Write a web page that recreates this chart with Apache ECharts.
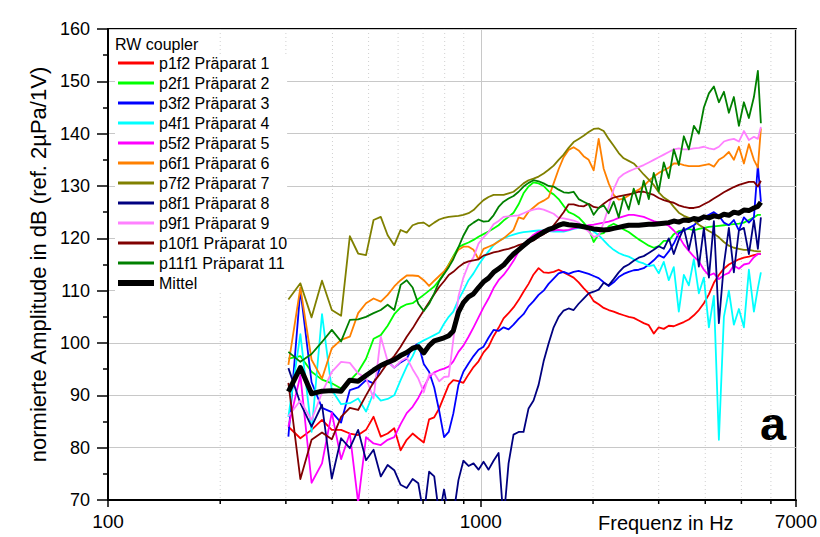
<!DOCTYPE html>
<html>
<head>
<meta charset="utf-8">
<script src="https://cdn.jsdelivr.net/npm/echarts@6/dist/echarts.min.js"></script>
<style>
html,body{margin:0;padding:0;background:#fff;}
#chart{width:820px;height:537px;}
</style>
</head>
<body>
<div id="chart"></div>
<script>
// frequency grid (Hz)
const freq = [304.7, 328.1, 351.6, 375, 398.4, 421.9, 445.3, 468.8, 492.2, 515.6, 539.1, 562.5, 585.9, 609.4, 632.8, 656.3, 679.7, 703.1, 726.6, 750, 773.4, 796.9, 820.3, 843.8,
  871, 898, 927, 956, 986, 1017, 1049, 1082, 1116, 1151, 1187, 1224, 1263, 1302, 1343, 1385, 1429, 1474, 1520, 1568,
  1617, 1668, 1720, 1774, 1830, 1887, 1947, 2008, 2071, 2136, 2203, 2272, 2344, 2417, 2493, 2571, 2652, 2735, 2822, 2910, 3001, 3096,
  3193, 3293, 3397, 3504, 3614, 3728, 3845, 3966, 4091, 4219, 4351, 4488, 4628, 4773, 4924, 5078, 5237, 5402,
  5536, 5640];

const p1f2 = [84, 81.8, 83.4, 85.3, 83.4, 83.4, 82.7, 82.4, 83.4, 85.9, 82.1, 82.7, 83.7, 79.5, 81.5, 82.7, 81.8, 81, 85.4, 85.8, 87.5, 89.8, 92, 92.9,
  92.7, 92.4, 94, 95.4, 96.5, 98.2, 99.3, 101.3, 102.9, 104.7, 105.7, 106.8, 108.2, 109.8, 111.3, 113.1, 114.3, 113.5, 113.4, 113.6,
  114, 113.5, 113, 112.5, 111.6, 110.5, 109.5, 108, 107.4, 106.7, 106.3, 106, 105.6, 105.3, 105, 104.8, 104.3, 103.8, 103.4, 101.8, 103, 102.7,
  103.3, 103.2, 103.6, 104, 104.5, 105.3, 106.3, 107.6, 109.3, 111.5, 113, 114.2, 115, 115.5, 116, 116.3, 116.5, 116.8,
  117, 117];
const p2f1 = [97, 97.5, 94.5, 93, 92.3, 91.3, 92.8, 94.5, 97, 100.8, 101.5, 103.3, 105.5, 106.8, 107.4, 107.6, 108.4, 109.2, 110, 110.8, 112, 113.3, 115, 116.6,
  118.3, 118.8, 119.2, 119.7, 120.3, 120.8, 121.3, 121.9, 122.5, 123.4, 124.1, 124.9, 126.5, 128.6, 129.9, 130.7, 130.5, 130, 129, 128.4,
  127.5, 126.2, 125, 124.6, 124, 123, 121.8, 119.3, 120.8, 121, 122.3, 122.8, 122.3, 121.7, 121.2, 120.5, 119.8, 119.2, 118.6, 118.2, 118.5, 119.5,
  119.5, 120.8, 121.4, 121.6, 121.8, 121.5, 121.8, 122, 122.2, 122.3, 122.4, 122.5, 122.6, 122.7, 122.8, 123, 123.5, 124,
  124.5, 124.5];
const p3f2 = [82.1, 110.2, 92.5, 87.6, 86.8, 84.8, 91, 91.5, 92.9, 92.3, 95.5, 96.5, 95.3, 96.3, 97, 99.2, 99.9, 96, 94.5, 91.5, 87, 82, 83, 86.5,
  92, 94.5, 96.1, 97.5, 98.7, 99.3, 101, 102.5, 102.3, 103, 102.6, 103.5, 104.6, 105.5, 107, 108, 109.2, 110, 111.3, 112.3,
  113.3, 113.6, 113.2, 113.6, 113.8, 113.5, 113.2, 112.8, 112.4, 111.6, 110.9, 111.6, 112.6, 113.2, 113.6, 113.9, 114, 114.3, 115, 115.8, 116.8, 116.3,
  117.5, 119, 121, 121.5, 122, 122.5, 123.3, 124, 124.5, 125, 124.3, 123, 122.5, 123.5, 121.5, 124, 123, 124,
  134, 127];
const p4f1 = [85.9, 101.7, 83, 105.5, 91, 88.3, 88.5, 89.4, 86.9, 90.5, 89, 89.3, 90, 92.9, 95.5, 97.5, 99.9, 100.5, 101, 101.5, 102, 103.7, 105, 106,
  108.3, 110, 112, 113.3, 114.9, 116.3, 117.5, 118.7, 119.5, 120, 120.4, 120.7, 121, 121.2, 121.3, 121.4, 121.5, 121.5, 121.4, 121.3,
  121.3, 121.3, 121.5, 121.8, 122, 122.1, 122, 121.3, 120.6, 119.6, 118.6, 117.8, 117.2, 116.8, 116.5, 116, 115.5, 115.2, 114.7, 114.9, 113.3, 115.5,
  112, 114.5, 106, 113, 111, 116, 109.5, 112.5, 103, 109, 81.5, 105, 110, 103.5, 106.5, 103, 114, 106,
  110.5, 113.5];
const p5f2 = [84, 93.8, 73.3, 77, 86.7, 77.8, 82.7, 69.5, 82, 80.8, 80.5, 81.5, 82, 84.5, 86.6, 87.8, 89.5, 91.5, 93.5, 94.4, 94.8, 95.1, 95.5, 96.5,
  98.3, 99.5, 101.2, 103, 104.9, 106.8, 108.5, 110.5, 112, 113, 114.3, 115.7, 117.5, 118.8, 119.8, 120.7, 121.3, 121.5, 121.5, 121.5,
  121.6, 121.5, 121.6, 121.9, 122.1, 122.3, 122.5, 122.6, 122.8, 123, 123.2, 123.5, 123.9, 124.2, 124.5, 124.5, 124.3, 124.1, 123.7, 123.3, 123, 122.8,
  122.4, 121.5, 120.4, 118.8, 117.6, 116.5, 115.6, 114, 112.9, 113.3, 112.2, 113, 113.4, 114.8, 114.2, 115, 115.2, 116.4,
  117, 117];
const p6f1 = [95.8, 110.6, 96.8, 93.2, 99, 100.6, 101.2, 105.7, 107.6, 108.5, 107.9, 109.2, 110.8, 112, 112.9, 112.9, 112.8, 112, 110.9, 111.9, 112.8, 113.7, 114.9, 116.4,
  117.8, 118.4, 118.4, 117.8, 116, 118, 118.4, 118.8, 119.4, 120, 120.8, 121.6, 124, 123.7, 125.1, 125.9, 126.7, 127.2, 127.8, 130.5,
  133.2, 135.5, 136.9, 137.4, 136.8, 135.7, 135, 133, 139, 133.3, 130.5, 128.3, 127.4, 127.6, 128.2, 128.8, 129.3, 130, 131, 131.8, 132.5, 133,
  133.5, 134.3, 134.3, 134, 133.8, 133.8, 133.8, 134, 134.2, 133.7, 135, 135.6, 136.5, 135, 137.5, 134.3, 138, 135,
  133.5, 141];
const p7f2 = [108.3, 111.4, 104.9, 111.9, 106.3, 105.2, 120.4, 117.1, 116.8, 123.5, 124.1, 120.6, 118.7, 121.6, 121.1, 122.5, 122.9, 123, 122.3, 123, 123.6, 123.9, 124.1, 124.2,
  124.3, 124.5, 124.8, 125.4, 126.4, 127.3, 127.9, 128.3, 128.3, 128.3, 128.6, 128.9, 129.7, 130.5, 131.1, 131.4, 131.8, 132.4, 133.1, 133.9,
  135, 136, 137.3, 138.4, 139, 139.6, 140.3, 140.9, 141, 140.5, 139, 137.7, 136.3, 135.3, 134.8, 134.3, 133.3, 132.2, 131.2, 130.2, 128.8, 127.8,
  127.2, 126, 124.9, 124.3, 123.9, 123.4, 122.6, 122, 121.4, 120.9, 120.2, 119.3, 118.6, 118.2, 118, 117.8, 117.8, 117.6,
  117.5, 117.5];
const p8f1 = [95.2, 88.5, 84, 88.2, 74.1, 81.8, 79.9, 83.4, 77.6, 79.6, 74.5, 76.7, 75.7, 72.9, 72.3, 74, 73.2, 67, 75.4, 74.5, 67, 72, 67, 67,
  73.8, 77.5, 76.5, 77, 75.8, 77.3, 75.8, 77.5, 79, 66, 77, 82.5, 83, 83, 87.5, 89, 92, 96.5, 99.9, 103,
  105, 106.2, 106.6, 106.3, 107.5, 108.5, 109.5, 109.8, 110.2, 111.5, 111, 112.2, 113.5, 114.5, 115, 115.7, 116.3, 116.6, 117.2, 117.8, 118.5, 118,
  120, 117, 119.8, 122, 117.8, 122.2, 114.6, 122, 112.5, 123.3, 103.8, 115, 122, 113.5, 121.5, 122, 117, 123.5,
  118, 124];
const p9f1 = [86, 89, 85.3, 90.5, 94.5, 96.4, 96.2, 94.2, 93.3, 89.4, 101.2, 96.5, 95.3, 96.5, 97.2, 95, 93.2, 90.6, 94, 94.2, 92.7, 93.5, 93.6, 100.6,
  108.9, 112.5, 115, 116.4, 119, 120.2, 121.2, 122.7, 123.3, 124.1, 124.2, 124.3, 124.4, 124.8, 125.2, 125.5, 125.7, 125.5, 125.1, 124.7,
  123.9, 123.8, 123.6, 123.4, 123, 122, 121.3, 120.3, 120.5, 123, 126, 129.4, 131.5, 132.3, 132.8, 133.2, 133.6, 134, 134.5, 135, 135.5, 136,
  136.5, 137, 137.2, 137, 137, 137.2, 137.3, 137.5, 137.2, 137, 137.5, 138.5, 138.8, 139, 138.5, 140.5, 138.8, 139.4,
  139, 141.3];
const p10f1 = [92.4, 74, 81.5, 82.9, 81.6, 85.9, 87.6, 87.2, 90, 92.5, 94.3, 96.2, 97.5, 99.3, 101.2, 102.8, 104.6, 106.2, 107.8, 109.3, 110.7, 111.8, 113, 113.6,
  114.5, 115.2, 115.6, 115.8, 116, 116.7, 117, 117.3, 117.5, 117.8, 118, 118.3, 118.7, 119, 119.3, 119.6, 120.3, 120.8, 121.4, 122.5,
  123.7, 125, 126.5, 126.5, 126.2, 126.1, 126.6, 126, 125.8, 126.6, 127.3, 127.8, 128, 128.2, 128.4, 128.6, 128.9, 128.9, 128.6, 128.3, 127.7, 127.3,
  127, 126.8, 126.3, 126, 125.8, 125.8, 126, 126.5, 127, 127.6, 128.2, 128.8, 129.3, 129.8, 130.2, 130.5, 130.8, 130.8,
  129.9, 131];
const p11f1 = [98.3, 96.4, 97.9, 100.2, 102.5, 100.3, 104.4, 104.5, 105, 105.7, 106.3, 107.3, 106.3, 111.1, 112, 110.6, 107.5, 106.1, 107.5, 109.5, 111.8, 113.2, 114.5, 116,
  118.3, 120.5, 122.3, 123, 123.6, 123.2, 123.3, 124.4, 126, 127, 127.6, 128.1, 128.9, 129.9, 130.6, 131.1, 130.9, 130.5, 130, 129.9,
  129.3, 128.8, 128.7, 128.9, 127.5, 127, 126.5, 124.5, 125.8, 126.3, 124.8, 127, 124, 128, 125.5, 129.5, 126.5, 131, 127.5, 132.5, 129, 134.5,
  131.5, 137, 134, 139.5, 137, 141.5, 140, 145, 147.7, 149, 146, 148, 144, 147, 141.5, 146, 143, 147,
  152, 142];
const mittel = [90.7, 95.3, 90.3, 90.8, 90.9, 90.8, 92.9, 92.7, 93.8, 94.8, 95.7, 96.3, 96.8, 97.6, 98.2, 99, 99.3, 98.1, 99.5, 100.4, 100.7, 101, 101.4, 102.3,
  105.9, 107.7, 108.8, 109.4, 110.6, 111.7, 112.4, 113.5, 114.2, 114.9, 116, 117, 117.8, 118.6, 119.4, 120, 120.6, 121.2, 121.7, 122,
  122.5, 122.8, 122.6, 122.5, 122.4, 122.2, 122, 121.8, 121.7, 121.6, 121.7, 121.9, 122.1, 122.3, 122.5, 122.5, 122.5, 122.6, 122.7, 122.7, 122.8, 122.9,
  123, 123.3, 123.1, 123.5, 123.4, 123.8, 123.6, 124.1, 123.9, 124.3, 124.1, 124.6, 124.4, 125, 124.8, 125.4, 125.3, 125.8,
  126.1, 126.9];

const seriesNames = ['p1f2 Präparat 1', 'p2f1 Präparat 2', 'p3f2 Präparat 3', 'p4f1 Präparat 4', 'p5f2 Präparat 5', 'p6f1 Präparat 6',
  'p7f2 Präparat 7', 'p8f1 Präparat 8', 'p9f1 Präparat 9', 'p10f1 Präparat 10', 'p11f1 Präparat 11', 'Mittel'];
const seriesValues = [p1f2, p2f1, p3f2, p4f1, p5f2, p6f1, p7f2, p8f1, p9f1, p10f1, p11f1, mittel];

const minorFreqs = [200, 300, 400, 500, 600, 700, 800, 900, 2000, 3000, 4000, 5000, 6000];
const xTickLabels = [100, 1000, 7000];

// styles
const colors = ['#ff0000', '#00ff00', '#0000ff', '#00ffff', '#ff00ff', '#ff8000', '#808000', '#000080', '#ff80ff', '#800000', '#008000', '#000000'];
const FONT = 'Arial, "Liberation Sans", sans-serif';

const chart = echarts.init(document.getElementById('chart'), null, {renderer: 'svg'});

const lineSeries = seriesNames.map((name, i) => ({
  name: name,
  type: 'line',
  data: freq.map((f, j) => [f, seriesValues[i][j]]),
  showSymbol: false,
  symbol: 'none',
  clip: true,
  lineStyle: {color: colors[i], width: i === 11 ? 5 : 1.8, join: 'round'},
  itemStyle: {color: colors[i]},
  emphasis: {disabled: true},
  z: 3
}));

const minorSeries = {
  type: 'custom',
  coordinateSystem: 'cartesian2d',
  silent: true,
  z: 1,
  data: minorFreqs.map(f => [f, 70]),
  renderItem: function (params, api) {
    const b = api.coord([api.value(0), 70]);
    const t = api.coord([api.value(0), 160]);
    return {
      type: 'group',
      children: [
        {type: 'line', shape: {x1: b[0], y1: t[1], x2: b[0], y2: b[1]}, style: {stroke: '#d0d0d0', lineWidth: 1, lineDash: [1, 3]}},
        {type: 'line', shape: {x1: b[0], y1: b[1], x2: b[0], y2: b[1] + 4}, style: {stroke: '#000', lineWidth: 1.5}}
      ]
    };
  }
};

chart.setOption({
  animation: false,
  backgroundColor: '#fff',
  textStyle: {fontFamily: FONT},
  title: {
    text: 'RW coupler', left: 115, top: 36, padding: 0,
    textStyle: {fontSize: 16, fontWeight: 'normal', color: '#000', fontFamily: FONT, lineHeight: 16}
  },
  legend: {
    orient: 'vertical', left: 115, top: 55, padding: 0, itemGap: 4,
    itemWidth: 36, itemHeight: 14, backgroundColor: '#fff', selectedMode: false,
    itemStyle: {color: 'rgba(0,0,0,0)', borderWidth: 0, opacity: 0},
    textStyle: {fontSize: 16, color: '#000', fontFamily: FONT},
    data: seriesNames.map((n, i) => ({name: n, lineStyle: {width: i === 11 ? 6 : 3, opacity: 1}}))
  },
  grid: {left: 108, right: 24, top: 29, bottom: 37, show: true, borderColor: '#000', borderWidth: 2, backgroundColor: 'transparent'},
  xAxis: {
    type: 'log', logBase: 10, min: xTickLabels[0], max: xTickLabels[2],
    axisLine: {show: true, lineStyle: {color: '#000', width: 2}},
    axisTick: {show: true, length: 7, lineStyle: {color: '#000', width: 1.5}},
    axisLabel: {fontSize: 19, color: '#000', margin: 12, fontFamily: FONT, formatter: v => String(Math.round(v)), showMaxLabel: true, showMinLabel: true},
    splitLine: {show: true, lineStyle: {color: '#c8c8c8', width: 1}}
  },
  yAxis: {
    type: 'value', min: 70, max: 160, interval: 10,
    name: 'normierte Amplitude in dB (ref. 2µPa/1V)', nameLocation: 'middle', nameGap: 58, nameRotate: 90,
    nameTextStyle: {fontSize: 22, color: '#000', fontFamily: FONT},
    axisLine: {show: true, lineStyle: {color: '#000', width: 2}},
    axisTick: {show: true, length: 11, lineStyle: {color: '#000', width: 1.5}},
    minorTick: {show: true, splitNumber: 2, length: 5, lineStyle: {color: '#000', width: 1.5}},
    axisLabel: {fontSize: 18, color: '#000', margin: 18, fontFamily: FONT},
    splitLine: {show: true, lineStyle: {color: '#c8c8c8', width: 1}}
  },
  graphic: [
    {type: 'text', left: 598, top: 513, silent: true, style: {text: 'Frequenz in Hz', font: '20px ' + FONT, fill: '#000'}},
    {type: 'text', x: 773, y: 423, silent: true, style: {text: 'a', font: 'bold 47px ' + FONT, fill: '#000', align: 'center', verticalAlign: 'middle'}}
  ],
  series: [minorSeries].concat(lineSeries)
});
</script>
</body>
</html>
